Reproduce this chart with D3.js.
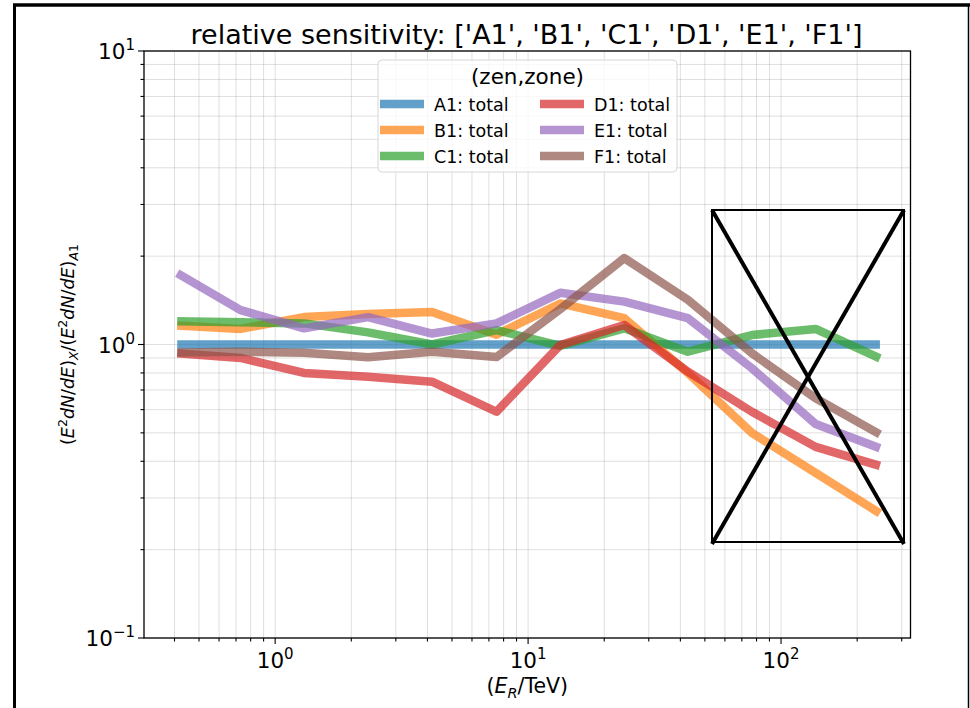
<!DOCTYPE html>
<html>
<head>
<meta charset="utf-8">
<title>relative sensitivity</title>
<script src="https://cdnjs.cloudflare.com/ajax/libs/d3/7.8.5/d3.min.js"></script>
<style>
 body { margin: 0; background: #fff; }
 svg text { font-family: "DejaVu Sans", sans-serif; fill: #000; }
</style>
</head>
<body>
<svg id="chart" width="970" height="708"></svg>
<script>
// energy bins (TeV)
var energies = [0.41, 0.73, 1.3, 2.33, 4.17, 7.5, 13.4, 24, 42.8, 76.7, 137, 246];

// relative sensitivity per configuration, normalised to A1
var A1 = [1, 1, 1, 1, 1, 1, 1, 1, 1, 1, 1, 1];
var B1 = [1.16, 1.13, 1.24, 1.27, 1.29, 1.08, 1.38, 1.23, 0.8, 0.5, 0.365, 0.266];
var C1 = [1.2, 1.19, 1.18, 1.1, 1.0, 1.12, 0.99, 1.135, 0.945, 1.077, 1.13, 0.897];
var D1 = [0.933, 0.9, 0.8, 0.777, 0.747, 0.59, 0.996, 1.165, 0.808, 0.59, 0.448, 0.386];
var E1 = [1.75, 1.31, 1.135, 1.24, 1.09, 1.18, 1.5, 1.4, 1.23, 0.83, 0.536, 0.443];
var F1 = [0.94, 0.945, 0.938, 0.905, 0.945, 0.906, 1.32, 1.97, 1.42, 0.933, 0.656, 0.494];

var seriesNames = ["A1", "B1", "C1", "D1", "E1", "F1"];
var seriesValues = [A1, B1, C1, D1, E1, F1];
var colors = ["#1f77b4", "#ff7f0e", "#2ca02c", "#d62728", "#9467bd", "#8c564b"];

var xMajor = [1, 10, 100];
var yMajor = [0.1, 1, 10];
var xMinor = [0.4, 0.5, 0.6, 0.7, 0.8, 0.9, 2, 3, 4, 5, 6, 7, 8, 9,
              20, 30, 40, 50, 60, 70, 80, 90, 200, 300];
var yMinor = [0.2, 0.3, 0.4, 0.5, 0.6, 0.7, 0.8, 0.9, 2, 3, 4, 5, 6, 7, 8, 9];
var xExp = ["0", "1", "2"];
var yExp = ["\u22121", "0", "1"];

var svg = d3.select("#chart");
var L = 144, R = 910.5, T = 51, B = 638;

var x = d3.scaleLog().domain([0.303, 325]).range([L, R]);
var y = d3.scaleLog().domain([0.1, 10]).range([B, T]);

// outer frame
svg.append("line").attr("x1", 14.5).attr("x2", 14.5).attr("y1", 4).attr("y2", 708)
  .attr("stroke", "#000").attr("stroke-width", 3);
svg.append("line").attr("x1", 13).attr("x2", 970).attr("y1", 5).attr("y2", 5)
  .attr("stroke", "#000").attr("stroke-width", 3.5);
svg.append("line").attr("x1", 968.5).attr("x2", 968.5).attr("y1", 4).attr("y2", 708)
  .attr("stroke", "#000").attr("stroke-width", 1.5);

// grid
var grid = svg.append("g").attr("stroke", "#b0b0b0").attr("stroke-opacity", 0.4).attr("stroke-width", 1);
xMajor.concat(xMinor).forEach(function(v) {
  grid.append("line").attr("x1", x(v)).attr("x2", x(v)).attr("y1", T).attr("y2", B);
});
yMajor.concat(yMinor).forEach(function(v) {
  grid.append("line").attr("x1", L).attr("x2", R).attr("y1", y(v)).attr("y2", y(v));
});

// series
var line = d3.line().x(function(d, i) { return x(energies[i]); }).y(function(d) { return y(d); });
var plot = svg.append("g");
seriesValues.forEach(function(vals, k) {
  plot.append("path").datum(vals).attr("d", line)
    .attr("fill", "none").attr("stroke", colors[k]).attr("stroke-width", 8.5)
    .attr("stroke-opacity", 0.7).attr("stroke-linejoin", "round");
});

// spines
svg.append("rect").attr("x", L).attr("y", T).attr("width", R - L).attr("height", B - T)
  .attr("fill", "none").attr("stroke", "#000").attr("stroke-width", 1.3);

// ticks
var ticks = svg.append("g").attr("stroke", "#000").attr("stroke-width", 1.1);
xMajor.forEach(function(v) { ticks.append("line").attr("x1", x(v)).attr("x2", x(v)).attr("y1", B).attr("y2", B + 6); });
xMinor.forEach(function(v) { ticks.append("line").attr("x1", x(v)).attr("x2", x(v)).attr("y1", B).attr("y2", B + 3.5); });
yMajor.forEach(function(v) { ticks.append("line").attr("x1", L).attr("x2", L - 6).attr("y1", y(v)).attr("y2", y(v)); });
yMinor.forEach(function(v) { ticks.append("line").attr("x1", L).attr("x2", L - 3.5).attr("y1", y(v)).attr("y2", y(v)); });

// tick labels
xMajor.forEach(function(v, i) {
  var t = svg.append("text").attr("x", x(v)).attr("y", B + 30).attr("text-anchor", "middle").attr("font-size", 21.5);
  t.append("tspan").text("10");
  t.append("tspan").attr("dy", -9).attr("font-size", 15).text(xExp[i]);
});
yMajor.forEach(function(v, i) {
  var t = svg.append("text").attr("x", L - 9).attr("y", y(v) + 8).attr("text-anchor", "end").attr("font-size", 21.5);
  t.append("tspan").text("10");
  t.append("tspan").attr("dy", -9).attr("font-size", 15).text(yExp[i]);
});

// axis labels
var xl = svg.append("text").attr("x", (L + R) / 2).attr("y", 693).attr("text-anchor", "middle").attr("font-size", 20.5);
xl.append("tspan").text("(");
xl.append("tspan").attr("font-style", "italic").text("E");
xl.append("tspan").attr("font-style", "italic").attr("font-size", 14.5).attr("dy", 5).text("R");
xl.append("tspan").attr("dy", -5).text("/TeV)");

var yl = svg.append("text").attr("transform", "translate(74," + ((T + B) / 2) + ") rotate(-90)")
  .attr("text-anchor", "middle").attr("font-size", 17.5);
function yPart(txt, it, dy, fs) {
  var s = yl.append("tspan").text(txt);
  if (it) s.attr("font-style", "italic");
  if (dy) s.attr("dy", dy);
  if (fs) s.attr("font-size", fs);
}
yPart("(", false);
yPart("E", true);
yPart("2", false, -7, 12.5);
yPart("dN", true, 7);
yPart("/", false);
yPart("dE", true);
yPart(")", false);
yPart("X", true, 4, 12.5);
yPart("/(", false, -4);
yPart("E", true);
yPart("2", false, -7, 12.5);
yPart("dN", true, 7);
yPart("/", false);
yPart("dE", true);
yPart(")", false);
yPart("A", true, 4, 12.5);
yPart("1", false, 0, 12.5);

// title
svg.append("text").attr("x", 526.5).attr("y", 44).attr("text-anchor", "middle").attr("font-size", 27)
  .text("relative sensitivity: ['A1', 'B1', 'C1', 'D1', 'E1', 'F1']");

// legend
var lg = svg.append("g");
lg.append("rect").attr("x", 378).attr("y", 60).attr("width", 299).attr("height", 112).attr("rx", 4)
  .attr("fill", "#fff").attr("fill-opacity", 0.8).attr("stroke", "#d6d6d6").attr("stroke-width", 1);
lg.append("text").attr("x", 527.5).attr("y", 84).attr("text-anchor", "middle").attr("font-size", 21.5).text("(zen,zone)");
seriesNames.forEach(function(name, k) {
  var col = Math.floor(k / 3), row = k % 3;
  var hx = 380 + col * 160, hy = 104 + row * 26;
  lg.append("line").attr("x1", hx).attr("x2", hx + 44).attr("y1", hy).attr("y2", hy)
    .attr("stroke", colors[k]).attr("stroke-width", 8.5).attr("stroke-opacity", 0.7);
  lg.append("text").attr("x", hx + 54).attr("y", hy + 6.5).attr("font-size", 17.5).text(name + ": total");
});

// crossed-out box annotation
var ann = svg.append("g").attr("stroke", "#000").attr("fill", "none");
ann.append("rect").attr("x", 712).attr("y", 210).attr("width", 192).attr("height", 332).attr("stroke-width", 2);
ann.append("line").attr("x1", 712).attr("y1", 210).attr("x2", 904).attr("y2", 544).attr("stroke-width", 4);
ann.append("line").attr("x1", 904).attr("y1", 210).attr("x2", 712).attr("y2", 544).attr("stroke-width", 4);
</script>
</body>
</html>
